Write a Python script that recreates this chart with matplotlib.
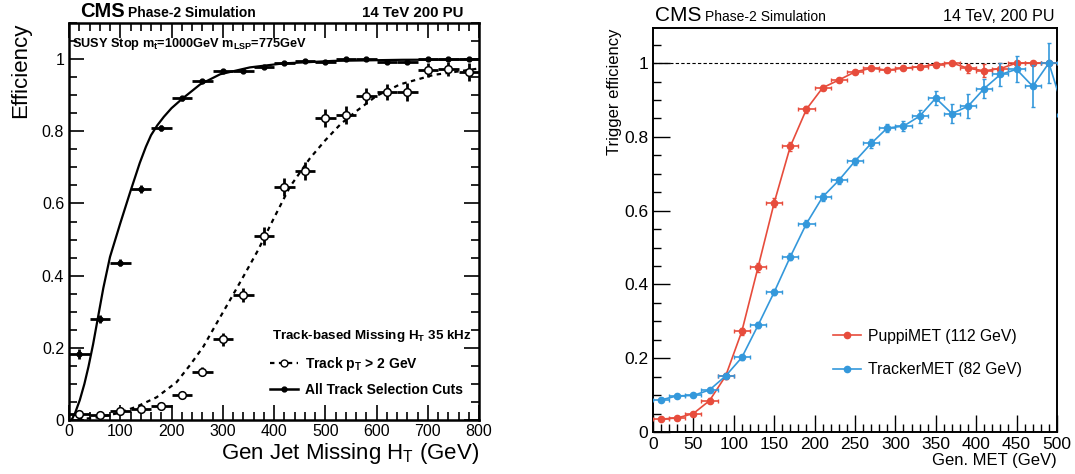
import matplotlib
matplotlib.use("Agg")
import matplotlib.pyplot as plt
from matplotlib.lines import Line2D
from matplotlib.ticker import MultipleLocator, FormatStrFormatter

plt.rcParams['font.family'] = ['Liberation Sans', 'DejaVu Sans']
plt.rcParams['mathtext.fontset'] = 'custom'
plt.rcParams['mathtext.rm'] = 'Liberation Sans'
plt.rcParams['mathtext.it'] = 'Liberation Sans:italic'
plt.rcParams['mathtext.bf'] = 'Liberation Sans:bold'

# ---------------- left panel data (track-based missing HT) ----------------
ht_bins = [20, 60, 100, 140, 180, 220, 260, 300, 340, 380,
           420, 460, 500, 540, 580, 620, 660, 700, 740, 780]
eff_all = [0.183, 0.280, 0.436, 0.640, 0.810, 0.891, 0.940, 0.967, 0.967, 0.979,
           0.988, 0.994, 0.992, 1.000, 0.999, 0.993, 0.992, 1.000, 1.000, 1.000]
err_all = [0.015, 0.012, 0.010, 0.010, 0.008, 0.006, 0.005, 0.004, 0.004, 0.004,
           0.003, 0.003, 0.003, 0.002, 0.002, 0.004, 0.006, 0.003, 0.003, 0.003]
eff_pt2 = [0.016, 0.014, 0.026, 0.030, 0.039, 0.070, 0.134, 0.224, 0.347, 0.511,
           0.645, 0.691, 0.837, 0.844, 0.898, 0.908, 0.910, 0.970, 0.972, 0.965]
err_pt2 = [0.006, 0.006, 0.006, 0.007, 0.008, 0.010, 0.012, 0.018, 0.020, 0.025,
           0.025, 0.025, 0.025, 0.025, 0.022, 0.022, 0.025, 0.020, 0.020, 0.025]

# fit curves
fit_all_x = [5, 12, 21, 30, 38, 47, 57, 67, 80, 100, 119, 138, 150, 160, 172, 185,
             200, 220, 256, 295, 353, 418, 516, 650, 800]
fit_all_y = [0.0, 0.02, 0.055, 0.10, 0.148, 0.21, 0.288, 0.366, 0.452, 0.545, 0.63,
             0.712, 0.757, 0.789, 0.816, 0.84, 0.864, 0.889, 0.93, 0.958, 0.977,
             0.988, 0.995, 0.998, 0.999]
fit_pt2_x = [0, 50, 93, 132, 171, 210, 236, 262, 288, 314, 340, 369, 400, 431,
             470, 500, 530, 560, 600, 646, 711, 800]
fit_pt2_y = [0.0, 0.006, 0.018, 0.037, 0.063, 0.105, 0.152, 0.203, 0.268, 0.332,
             0.397, 0.471, 0.56, 0.646, 0.725, 0.775, 0.82, 0.855, 0.898, 0.930,
             0.956, 0.974]

# ---------------- right panel data (MET triggers) ----------------
met_bins = [10, 30, 50, 70, 90, 110, 130, 150, 170, 190, 210, 230, 250,
            270, 290, 310, 330, 350, 370, 390, 410, 430, 450, 470, 490]
puppi_eff = [0.035, 0.038, 0.050, 0.085, 0.152, 0.273, 0.446, 0.621, 0.774, 0.875,
             0.933, 0.954, 0.976, 0.986, 0.981, 0.986, 0.990, 0.996, 1.000, 0.986,
             0.979, 0.985, 1.000, 1.000, 1.000]
puppi_err = [0.003, 0.003, 0.004, 0.006, 0.008, 0.010, 0.012, 0.012, 0.011, 0.009,
             0.007, 0.006, 0.005, 0.005, 0.006, 0.006, 0.007, 0.007, 0.005, 0.012,
             0.018, 0.015, 0.004, 0.004, 0.004]
tracker_bins = met_bins + [510]
tracker_eff = [0.087, 0.098, 0.099, 0.114, 0.152, 0.202, 0.289, 0.379, 0.475, 0.565,
               0.637, 0.682, 0.734, 0.782, 0.824, 0.829, 0.856, 0.905, 0.863, 0.883,
               0.931, 0.969, 0.983, 0.937, 1.000, 0.86]
tracker_err = [0.004, 0.004, 0.004, 0.005, 0.006, 0.007, 0.008, 0.009, 0.010, 0.010,
               0.010, 0.010, 0.010, 0.011, 0.012, 0.014, 0.018, 0.020, 0.025, 0.033,
               0.027, 0.032, 0.035, 0.057, 0.055, 0.06]

red = '#e74c3c'
blue = '#3498db'

fig = plt.figure(figsize=(10.75, 4.74), dpi=100)

# ======================= left =======================
ax1 = fig.add_axes([0.0642, 0.1139, 0.3814, 0.8376])
ax1.plot(fit_all_x, fit_all_y, color='black', lw=1.6)
ax1.plot(fit_pt2_x, fit_pt2_y, color='black', lw=1.6, ls=(0, (2, 2)))
ax1.errorbar(ht_bins, eff_pt2, xerr=20, yerr=err_pt2, fmt='o', color='black',
             mfc='white', mec='black', mew=1.1, ms=5.5, elinewidth=2.0, capsize=0, zorder=3)
ax1.errorbar(ht_bins, eff_all, xerr=20, yerr=err_all, fmt='o', color='black',
             ms=3.5, elinewidth=2.0, capsize=0, zorder=4)

ax1.set_xlim(0, 800)
ax1.set_ylim(0, 1.1)
ax1.xaxis.set_major_locator(MultipleLocator(100))
ax1.xaxis.set_minor_locator(MultipleLocator(20))
ax1.yaxis.set_major_locator(MultipleLocator(0.2))
ax1.yaxis.set_minor_locator(MultipleLocator(0.05))
ax1.yaxis.set_major_formatter(FormatStrFormatter('%g'))
ax1.tick_params(which='both', direction='in', top=True, right=True, labelsize=11.5, width=1.2)
ax1.tick_params(which='major', length=11)
ax1.tick_params(which='minor', length=6)
ax1.tick_params(axis='x', pad=3)
for s in ax1.spines.values():
    s.set_linewidth(1.8)
ax1.set_xlabel(r'Gen Jet Missing H$_\mathregular{T}$ (GeV)', fontsize=16, loc='right', labelpad=1)
ax1.set_ylabel('Efficiency', fontsize=16, loc='top', labelpad=8)

ax1.text(0.027, 1.015, 'CMS', transform=ax1.transAxes, fontsize=14.5, fontweight='bold', va='baseline')
ax1.text(0.144, 1.015, 'Phase-2 Simulation', transform=ax1.transAxes, fontsize=10,
         fontweight='bold', va='baseline')
ax1.text(0.961, 1.015, '14 TeV 200 PU', transform=ax1.transAxes, fontsize=10.8,
         fontweight='bold', va='baseline', ha='right')
ax1.text(0.007, 0.94, r'SUSY Stop m$_\mathbf{\tilde{t}}$=1000GeV m$_\mathbf{LSP}$=775GeV',
         transform=ax1.transAxes, fontsize=9.2, fontweight='bold', va='baseline')
ax1.text(0.495, 0.204, r'Track-based Missing H$_\mathbf{T}$ 35 kHz', transform=ax1.transAxes,
         fontsize=9.6, fontweight='bold', va='baseline')

h_pt2 = Line2D([], [], color='black', ls=(0, (2, 2)), lw=1.6, marker='o', mfc='white',
               mec='black', ms=5)
h_all = Line2D([], [], color='black', ls='-', lw=1.8, marker='o', ms=3.5)
ax1.legend([h_pt2, h_all], [r'Track p$_\mathbf{T}$ > 2 GeV', 'All Track Selection Cuts'],
           loc='upper left', bbox_to_anchor=(0.49, 0.165), frameon=False, borderpad=0,
           borderaxespad=0, handlelength=2.0, handletextpad=0.5, labelspacing=0.75,
           prop={'weight': 'bold', 'size': 10})

# ======================= right =======================
ax2 = fig.add_axes([0.6074, 0.0886, 0.3758, 0.8523])
ax2.axhline(1.0, color='black', lw=0.8, ls=(0, (3, 2)))
ax2.errorbar(met_bins, puppi_eff, xerr=10, yerr=puppi_err, fmt='-o', color=red, ms=4.5,
             lw=1.2, elinewidth=1.2, capsize=1.5, label='PuppiMET (112 GeV)', zorder=3)
ax2.errorbar(tracker_bins, tracker_eff, xerr=10, yerr=tracker_err, fmt='-o', color=blue, ms=4.5,
             lw=1.2, elinewidth=1.2, capsize=1.5, label='TrackerMET (82 GeV)', zorder=4)

ax2.set_xlim(0, 500)
ax2.set_ylim(0, 1.095)
ax2.xaxis.set_major_locator(MultipleLocator(50))
ax2.xaxis.set_minor_locator(MultipleLocator(10))
ax2.yaxis.set_major_locator(MultipleLocator(0.2))
ax2.yaxis.set_minor_locator(MultipleLocator(0.05))
ax2.yaxis.set_major_formatter(FormatStrFormatter('%g'))
ax2.tick_params(which='both', direction='in', labelsize=12.5, width=1.0)
ax2.tick_params(which='major', length=12)
ax2.tick_params(which='minor', length=6)
for s in ax2.spines.values():
    s.set_linewidth(1.4)
ax2.set_xlabel('Gen. MET (GeV)', fontsize=12, loc='right', labelpad=1)
ax2.set_ylabel('Trigger efficiency', fontsize=12, loc='top', labelpad=1.5)

ax2.text(0.005, 1.017, 'CMS', transform=ax2.transAxes, fontsize=15, va='baseline')
ax2.text(0.129, 1.017, 'Phase-2 Simulation', transform=ax2.transAxes, fontsize=10, va='baseline')
ax2.text(0.995, 1.017, '14 TeV, 200 PU', transform=ax2.transAxes, fontsize=11.6,
         va='baseline', ha='right')

hp = Line2D([], [], color=red, lw=1.2, marker='o', ms=4.5)
ht = Line2D([], [], color=blue, lw=1.2, marker='o', ms=4.5)
ax2.legend([hp, ht], ['PuppiMET (112 GeV)', 'TrackerMET (82 GeV)'], loc='upper left',
           bbox_to_anchor=(0.446, 0.255), frameon=False, borderpad=0, borderaxespad=0,
           handlelength=1.75, handletextpad=0.45, labelspacing=1.15, fontsize=11.3)

fig.savefig('out.png', dpi=100)
